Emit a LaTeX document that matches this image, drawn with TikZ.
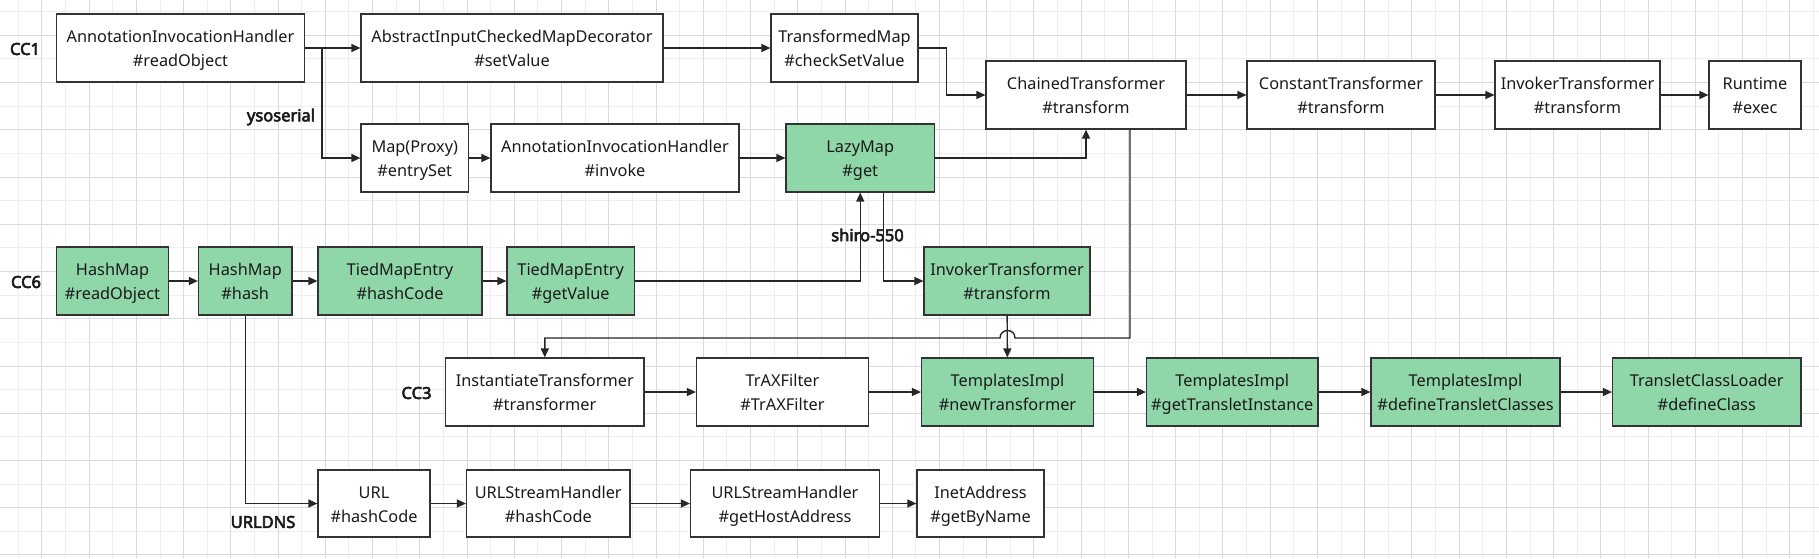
\documentclass[tikz,border=0pt]{standalone}
\usepackage{fontspec}
\setmainfont{Noto Sans}
\newfontfamily\labfont{Noto Sans}[FakeBold=3.5]
\usetikzlibrary{arrows.meta}
\definecolor{gridminor}{HTML}{EEEEEE}
\definecolor{gridmajor}{HTML}{DADADA}
\definecolor{boxgreen}{HTML}{8FD6A8}
\definecolor{boxline}{HTML}{333333}
\definecolor{txt}{HTML}{1A1A1A}
\begin{document}
\begin{tikzpicture}[x=1pt,y=-1pt,
  box/.style={draw=boxline, line width=1.2pt, fill=white, minimum height=68pt, inner sep=0pt,
    align=center, text=txt, font=\fontsize{16.3}{24}\selectfont, text height=38pt, text depth=0.6pt},
  gbox/.style={box, fill=boxgreen},
  conn/.style={draw=black!85, line width=1.4pt, -{Triangle[length=9pt,width=8pt]}},
  lab/.style={font=\labfont\fontsize{16.5}{20}\selectfont, text=txt, inner sep=0pt}]
\useasboundingbox (0,0) rectangle (1819,558);
\fill[white] (0,0) rectangle (1819,558);
% grid
\foreach \m in {0,...,38} \draw[gridminor, line width=1pt] ({18.3+47.24*\m},0) -- ({18.3+47.24*\m},558);
\foreach \m in {0,...,11} \draw[gridminor, line width=1pt] (0,{11.7+47.24*\m}) -- (1819,{11.7+47.24*\m});
\foreach \m in {0,...,37} \draw[gridmajor, line width=1pt] ({41.92+47.24*\m},0) -- ({41.92+47.24*\m},558);
\foreach \m in {0,...,11} \draw[gridmajor, line width=1pt] (0,{35.32+47.24*\m}) -- (1819,{35.32+47.24*\m});

% CC1 row
\node[box, minimum width=248pt] (a1) at (180.5,48) {AnnotationInvocationHandler\\\#readObject};
\node[box, minimum width=302pt] (a2) at (512,48) {AbstractInputCheckedMapDecorator\\\#setValue};
\node[box, minimum width=147pt] (a3) at (844.5,48) {TransformedMap\\\#checkSetValue};
\node[box, minimum width=200pt] (a4) at (1086,95) {ChainedTransformer\\\#transform};
\node[box, minimum width=188pt] (a5) at (1341,95) {ConstantTransformer\\\#transform};
\node[box, minimum width=165pt] (a6) at (1577.5,95) {InvokerTransformer\\\#transform};
\node[box, minimum width=92pt] (a7) at (1755,95) {Runtime\\\#exec};
% ysoserial row
\node[box, minimum width=107.5pt] (b1) at (414.75,158) {Map(Proxy)\\\#entrySet};
\node[box, minimum width=248pt] (b2) at (615,158) {AnnotationInvocationHandler\\\#invoke};
\node[gbox, minimum width=148.5pt] (b3) at (860.25,158) {LazyMap\\\#get};
% CC6 row
\node[gbox, minimum width=112pt] (c1) at (112.5,281) {HashMap\\\#readObject};
\node[gbox, minimum width=93.5pt] (c2) at (245.25,281) {HashMap\\\#hash};
\node[gbox, minimum width=164pt] (c3) at (400,281) {TiedMapEntry\\\#hashCode};
\node[gbox, minimum width=127.4pt] (c4) at (570.7,281) {TiedMapEntry\\\#getValue};
\node[gbox, minimum width=166pt] (c5) at (1007,281) {InvokerTransformer\\\#transform};
% CC3 row
\node[box, minimum width=198.4pt] (d1) at (544.8,392) {InstantiateTransformer\\\#transformer};
\node[box, minimum width=172pt] (d2) at (782.5,392) {TrAXFilter\\\#TrAXFilter};
\node[gbox, minimum width=172pt] (d3) at (1007.5,392) {TemplatesImpl\\\#newTransformer};
\node[gbox, minimum width=171.5pt] (d4) at (1232.25,392) {TemplatesImpl\\\#getTransletInstance};
\node[gbox, minimum width=189pt] (d5) at (1465.5,392) {TemplatesImpl\\\#defineTransletClasses};
\node[gbox, minimum width=188.5pt] (d6) at (1706.75,392) {TransletClassLoader\\\#defineClass};
% URLDNS row
\node[box, minimum width=112pt, minimum height=67pt] (e1) at (374,503.5) {URL\\\#hashCode};
\node[box, minimum width=163.5pt, minimum height=67pt] (e2) at (548.25,503.5) {URLStreamHandler\\\#hashCode};
\node[box, minimum width=189pt, minimum height=67pt] (e3) at (785,503.5) {URLStreamHandler\\\#getHostAddress};
\node[box, minimum width=127pt, minimum height=67pt] (e4) at (980.5,503.5) {InetAddress\\\#getByName};

% labels
\node[lab] (l1) at (25,49) {CC1};
\node[lab] (l2) at (281,117) {ysoserial};
\node[lab] (l3) at (26,282) {CC6};
\node[lab] (l4) at (867.5,235) {shiro-550};
\node[lab] (l5) at (416.5,393) {CC3};
\node[lab] (l6) at (263,522) {URLDNS};

% connectors
\draw[conn] (a1) -- (a2);
\draw[conn] ([xshift=17pt]a1.east) |- (b1.west);
\draw[conn] (a2) -- (a3);
\draw[conn] (a3.east) -- ++(28,0) |- (a4.west);
\draw[conn] (a4) -- (a5);
\draw[conn] (a5) -- (a6);
\draw[conn] (a6) -- (a7);
\draw[conn] (b1) -- (b2);
\draw[conn] (b2) -- (b3);
\draw[conn] (b3.east) -| (a4.south);
\draw[conn] (c1) -- (c2);
\draw[conn] (c2) -- (c3);
\draw[conn] (c3) -- (c4);
\draw[conn] (c4.east) -| (b3.south);
\draw[conn] ([xshift=23pt]b3.south) |- (c5.west);
\draw[conn] (c5) -- (d3);
\coordinate (jr) at (1015,338);
\coordinate (jl) at (1000,338);
\draw[conn] ([xshift=44pt]a4.south) |- (jr) .. controls (1015,328) and (1000,328) .. (jl) -| (d1.north);
\draw[conn] (d1) -- (d2);
\draw[conn] (d2) -- (d3);
\draw[conn] (d3) -- (d4);
\draw[conn] (d4) -- (d5);
\draw[conn] (d5) -- (d6);
\draw[conn] (c2.south) |- (e1.west);
\draw[conn] (e1) -- (e2);
\draw[conn] (e2) -- (e3);
\draw[conn] (e3) -- (e4);
\end{tikzpicture}
\end{document}
